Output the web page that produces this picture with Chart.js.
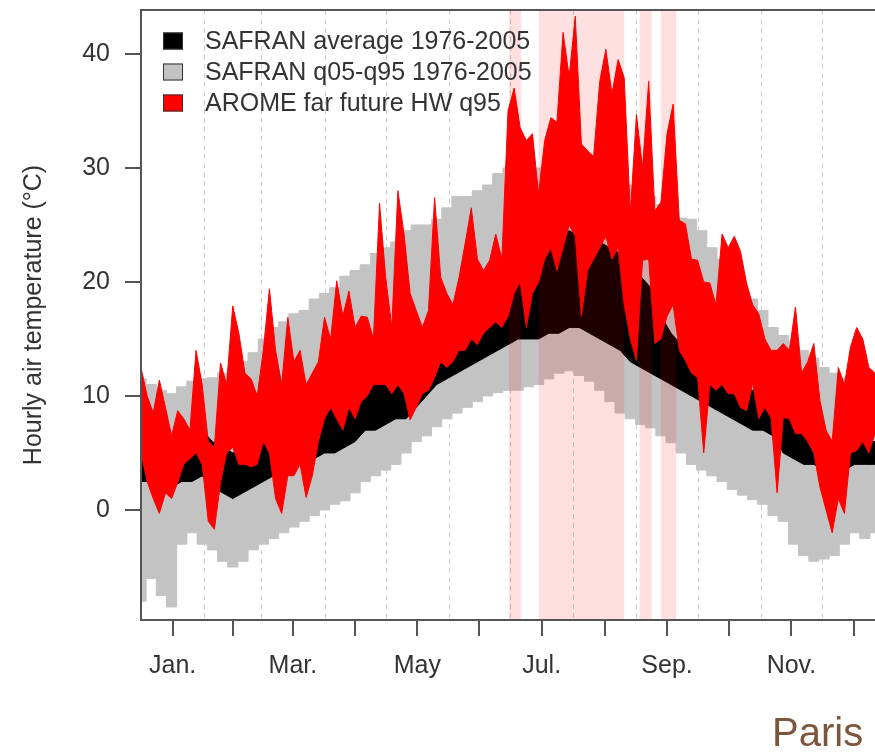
<!DOCTYPE html>
<html>
<head>
<meta charset="utf-8">
<script src="https://cdn.jsdelivr.net/npm/chart.js@4.4.0/dist/chart.umd.min.js"></script>
<style>
  html, body { margin: 0; padding: 0; background: #fff; }
  #wrap { position: relative; width: 875px; height: 752px; overflow: hidden; }
  #paris { position: absolute; left: 772px; top: 712px; font: 40px 'Liberation Sans', Arial, sans-serif; line-height: 40px; color: #7d553c; }
</style>
</head>
<body>
<div id="wrap">
  <canvas id="temps" width="875" height="752"></canvas>
  <div id="paris">Paris</div>
</div>
<script>
// day of year for the SAFRAN bands (5-day steps)
const bandDays = [0,5,10,15,20,25,30,35,40,45,50,55,60,65,70,75,80,85,90,95,100,105,110,115,120,125,130,135,140,145,150,155,160,165,170,175,180,185,190,195,200,205,210,215,220,225,230,235,240,245,250,255,260,265,270,275,280,285,290,295,300,305,310,315,320,325,330,335,340,345,350,355,360];
const grayHigh = [11.5,11,10.5,10.2,10.8,11.3,11.5,11.6,12,12.3,13,13.8,15,16,16.5,17.2,17.5,18.5,19,19.5,20.5,21,21.5,22.5,23,23.5,24.5,25,25,25.5,26.5,27.5,27.5,28,28.5,29.5,30,29.5,29.8,30,30.5,31,31.5,31.5,31,30.5,30,29,28.5,28,27.5,26.8,26,25.6,25.5,24.5,23,22,21,19.5,18.5,17.5,16,15.3,14.8,14,13.3,12.5,12,11.6,11.2,10.8,10.5];
const grayLow = [-8,-6,-7.5,-8.5,-3,-2,-3,-3.5,-4.5,-5,-4.5,-3.5,-3,-2.5,-2,-1.5,-1,-0.5,0,0.5,0.8,1.5,2.5,3,3.5,4,5,6,6.5,7.3,8,8.5,9,9.5,10,10.3,10.5,10.5,10.8,11,11.5,12,12.2,11.8,11.3,10.5,9.5,8.5,8,7.5,7.2,6.5,5.9,5,4,3.5,3,2.5,1.8,1.3,0.9,0.5,-0.5,-1,-3,-4,-4.5,-4.3,-4,-3,-2,-2.5,-2];
const blackHigh = [5.5,5,5,4.5,5.5,6.5,7,6,5.5,5,5.5,6.5,7,7.5,8,8,8.5,9,10,10.5,11.5,12.5,13,13.5,12,12,12.5,13.5,14,14.5,15,16,16.5,18,18.5,19,20,21,21.5,22.5,23.5,24,24.5,24,24,23.5,23,22.5,21.5,20.5,19.5,17,15.5,14.5,14,13,12.5,12,11.5,10.5,10.5,11,10,9,8,7.5,7,6.5,6,6,6,6,6];
const blackLow = [2.5,2.5,2,2,2.5,2.5,3,2,1.5,1,1.5,2,2.5,3,3.5,4,4.5,4.5,5,5,5.5,6,7,7,7.5,8,8,9,10,11,11.5,12,12.5,13,13.5,14,14.5,15,15,15,15.5,15.5,16,16,15.5,15,14.5,14,13,12.5,12,11.5,11,10.5,10,9.5,9,8.5,8,7.5,7,7,6.5,5,4.5,4,4,3.5,3.5,3.5,4,4,4];

// day of year for the AROME heat-wave series (3-day steps)
const redDays = [0,3,6,9,12,15,18,21,24,27,30,33,36,39,42,45,48,51,54,57,60,63,66,69,72,75,78,81,84,87,90,93,96,99,102,105,108,111,114,117,120,123,126,129,132,135,138,141,144,147,150,153,156,159,162,165,168,171,174,177,180,183,186,189,192,195,198,201,204,207,210,213,216,219,222,225,228,231,234,237,240,243,246,249,252,255,258,261,264,267,270,273,276,279,282,285,288,291,294,297,300,303,306,309,312,315,318,321,324,327,330,333,336,339,342,345,348,351,354,357,360];
const redHigh = [12.5,10,8.5,11.4,9,6.5,8.7,8,7,14,11,6,5.5,12.9,11,17.9,15.5,12,11.5,10,14,
  19.4,14,11,16.9,13,14,11,12,13,16.9,15,20.1,17,19.2,16,17,16.9,15,26.9,20.4,
  16,28,24.2,19,17.5,16,17.5,27.4,20.4,19,18,20.4,23.4,26.5,22,21,21.9,24.2,22,35,
  37,33.5,32.4,33,27.7,32.4,34.4,34,41.9,38,43.3,32.1,31.5,31,37.6,40.4,36.5,39.5,37.9,26,
  34.7,30,37.6,26.2,27,33,35.6,25.4,25.1,22,21.9,20,19.9,18,24.2,23,24,22.7,19.9,18,
  17.2,15,14,14,14.6,14,17.8,12,13,14.6,9.6,7,6,12.5,11,14.3,16,15,12.5,12];
const redLow = [5,2.5,1,-0.3,1.5,1,2.4,4,4.5,5,4,-1,-1.7,2.4,5,5.5,4,4,3.8,4,6,
  5,1,-0.3,3,3,4,1.1,3,6,8,9,8,7,9,8,9.5,10,11,11,11,
  10.2,11,10.2,7.9,9,10.2,10.5,11.6,13,12.5,13,14,14,15,14.5,15.5,16,16.5,16,17,
  19,20,16,19,20,22,23,21,23,25,24,17,21,22,23,24,22,23,18,15,
  13.1,21.9,22,14.6,15,17,18,14,13.1,12,11.6,5,11,10.5,11,10.2,10.2,9,8.7,11.1,
  8,9,8.1,1.5,8.1,8,6.7,6.7,6,5,2,0,-2,1,-0.3,5,5.2,6,5,6.7];

const seriesNames = ['SAFRAN average 1976-2005', 'SAFRAN q05-q95 1976-2005', 'AROME far future HW q95'];
const monthMid = [15.5, 45, 74.5, 105, 135.5, 166, 196.5, 227.5, 258, 288.5, 319, 349.5];
const monthLabels = ['Jan.', '', 'Mar.', '', 'May', '', 'Jul.', '', 'Sep.', '', 'Nov.', ''];
const monthStarts = [31, 59, 90, 120, 151, 181, 212, 243, 273, 304, 334];
const yTicks = [0, 10, 20, 30, 40];
// heat-wave periods (day of year)
const hwStart = [180.5, 195, 244.5, 255];
const hwEnd = [186.5, 237, 250.5, 262.5];

const toPoints = (days, vals) => days.map((d, i) => ({ x: d, y: vals[i] }));

Chart.defaults.font.family = "'Liberation Sans', Arial, sans-serif";
Chart.defaults.color = '#333';

const legendColors = ['#000000', '#c3c3c3', '#ff0000'];

const decor = {
  id: 'decor',
  beforeDatasetsDraw(chart) {
    const { ctx, chartArea: a, scales: { x } } = chart;
    ctx.save();
    ctx.strokeStyle = '#cfcfcf';
    ctx.lineWidth = 1;
    ctx.setLineDash([5, 4]);
    monthStarts.forEach(d => {
      const px = Math.round(x.getPixelForValue(d)) + 0.5;
      ctx.beginPath();
      ctx.moveTo(px, a.top);
      ctx.lineTo(px, a.bottom);
      ctx.stroke();
    });
    ctx.restore();
  },
  afterDatasetsDraw(chart) {
    const { ctx, chartArea: a, scales: { x } } = chart;
    ctx.save();
    ctx.fillStyle = 'rgba(255,0,0,0.12)';
    hwStart.forEach((s, i) => {
      const x0 = x.getPixelForValue(s);
      const x1 = x.getPixelForValue(hwEnd[i]);
      ctx.fillRect(x0, a.top, x1 - x0, a.bottom - a.top);
    });

    // box around the plot
    ctx.strokeStyle = '#555';
    ctx.lineWidth = 2;
    ctx.beginPath();
    ctx.moveTo(a.right + 2, a.top);
    ctx.lineTo(a.left, a.top);
    ctx.lineTo(a.left, a.bottom);
    ctx.lineTo(a.right + 2, a.bottom);
    ctx.stroke();

    // legend
    ctx.font = "25px 'Liberation Sans', Arial, sans-serif";
    ctx.textBaseline = 'middle';
    ctx.lineWidth = 1;
    seriesNames.forEach((name, i) => {
      const cy = a.top + 31 + i * 31;
      ctx.fillStyle = legendColors[i];
      ctx.fillRect(a.left + 22, cy - 8.5, 20, 17);
      ctx.strokeStyle = '#333';
      ctx.strokeRect(a.left + 22.5, cy - 8, 19, 16);
      ctx.fillStyle = '#333';
      ctx.fillText(name, a.left + 64, cy + 1);
    });
    ctx.restore();
  }
};

const band = (label, days, vals, color, fill, stepped) => ({
  label: label,
  data: toPoints(days, vals),
  borderColor: color,
  backgroundColor: color,
  borderWidth: 1,
  pointRadius: 0,
  tension: 0,
  stepped: stepped,
  fill: fill
});

new Chart(document.getElementById('temps'), {
  type: 'line',
  data: {
    datasets: [
      band(seriesNames[2] + ' low', redDays, redLow, '#ff0000', false, false),
      band(seriesNames[2], redDays, redHigh, '#ff0000', '-1', false),
      band(seriesNames[0] + ' low', bandDays, blackLow, '#000000', false, false),
      band(seriesNames[0], bandDays, blackHigh, '#000000', '-1', false),
      band(seriesNames[1] + ' low', bandDays, grayLow, '#c3c3c3', false, 'middle'),
      band(seriesNames[1], bandDays, grayHigh, '#c3c3c3', '-1', 'middle')
    ]
  },
  options: {
    responsive: false,
    animation: false,
    events: [],
    layout: { padding: { left: 0, right: 0, top: 10, bottom: 0 } },
    plugins: { legend: { display: false }, tooltip: { enabled: false } },
    scales: {
      x: {
        type: 'linear',
        min: 0,
        max: 360,
        afterBuildTicks: s => { s.ticks = monthMid.map(v => ({ value: v })); },
        afterFit: s => { s.height = 132; s.paddingLeft = 0; s.paddingRight = 0; },
        ticks: {
          autoSkip: false, maxRotation: 0, minRotation: 0, padding: 15,
          color: '#333', font: { size: 25 },
          callback: (v, i) => monthLabels[i]
        },
        grid: { drawOnChartArea: false, drawTicks: true, tickLength: 16, color: '#555', lineWidth: 2 },
        border: { display: false }
      },
      y: {
        min: -9.65,
        max: 43.85,
        afterBuildTicks: s => { s.ticks = yTicks.map(v => ({ value: v })); },
        afterFit: s => { s.width = 141; s.paddingTop = 0; s.paddingBottom = 0; },
        ticks: { padding: 15, color: '#333', font: { size: 25 }, callback: v => v },
        grid: { drawOnChartArea: false, drawTicks: true, tickLength: 16, color: '#555', lineWidth: 2 },
        border: { display: false },
        title: {
          display: true, text: 'Hourly air temperature (°C)', color: '#333',
          font: { size: 25 }, padding: { top: 19, bottom: 0 }
        }
      }
    }
  },
  plugins: [decor]
});
</script>
</body>
</html>
